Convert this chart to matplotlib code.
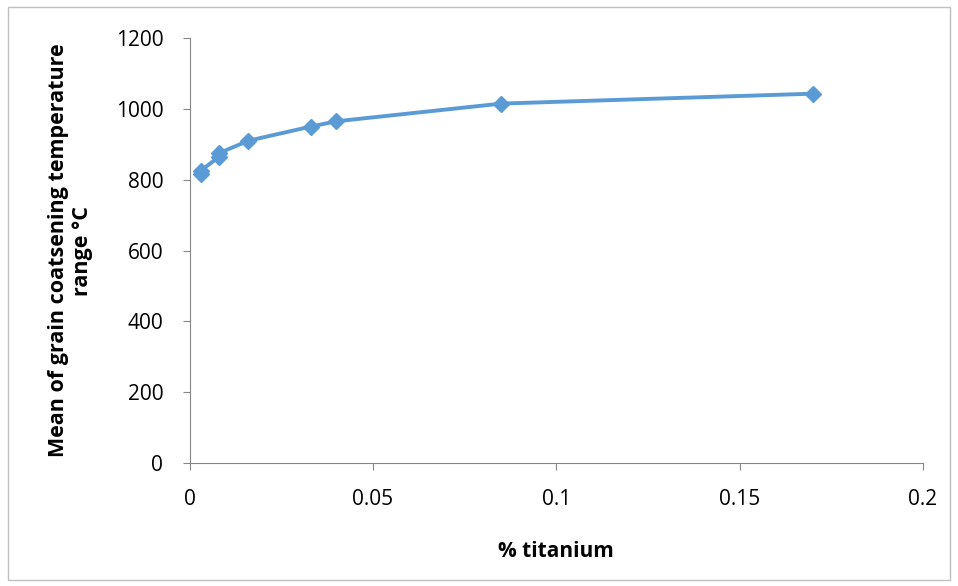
import matplotlib
matplotlib.use("Agg")
import matplotlib.pyplot as plt
from matplotlib.patches import Rectangle

titanium = [0.003, 0.003, 0.008, 0.008, 0.016, 0.033, 0.040, 0.085, 0.170]
temperature = [815, 825, 865, 875, 910, 950, 965, 1015, 1043]

plt.rcParams['font.family'] = ['Open Sans', 'DejaVu Sans']

fig = plt.figure(figsize=(9.58, 5.86), dpi=100)
ax = fig.add_axes([0.198, 0.21, 0.7655, 0.725])

ax.plot(titanium, temperature, color='#5B9BD5', linewidth=2.8,
        marker='D', markersize=8, markeredgecolor='#5B9BD5')

ax.set_xlim(0, 0.2)
ax.set_ylim(0, 1200)
ax.set_xticks([0, 0.05, 0.1, 0.15, 0.2])
ax.set_xticklabels(['0', '0.05', '0.1', '0.15', '0.2'])
ax.set_yticks(range(0, 1201, 200))

for s in ['top', 'right']:
    ax.spines[s].set_visible(False)
for s in ['left', 'bottom']:
    ax.spines[s].set_color('#868686')
ax.tick_params(axis='both', colors='#868686', labelcolor='black',
               labelsize=15, length=5, direction='out')
ax.tick_params(axis='y', pad=14)
ax.tick_params(axis='x', pad=14)

ax.set_xlabel('% titanium', fontsize=15, fontweight='bold', labelpad=22)
ax.set_ylabel('Mean of grain coatsening temperature\nrange \u00b0C',
              fontsize=15.5, fontweight='bold', labelpad=16)

# chart border
fig.patches.append(Rectangle((0.008, 0.01), 0.984, 0.978, transform=fig.transFigure,
                             fill=False, edgecolor='#BFBFBF', linewidth=1))

fig.savefig('out.png', dpi=100)
